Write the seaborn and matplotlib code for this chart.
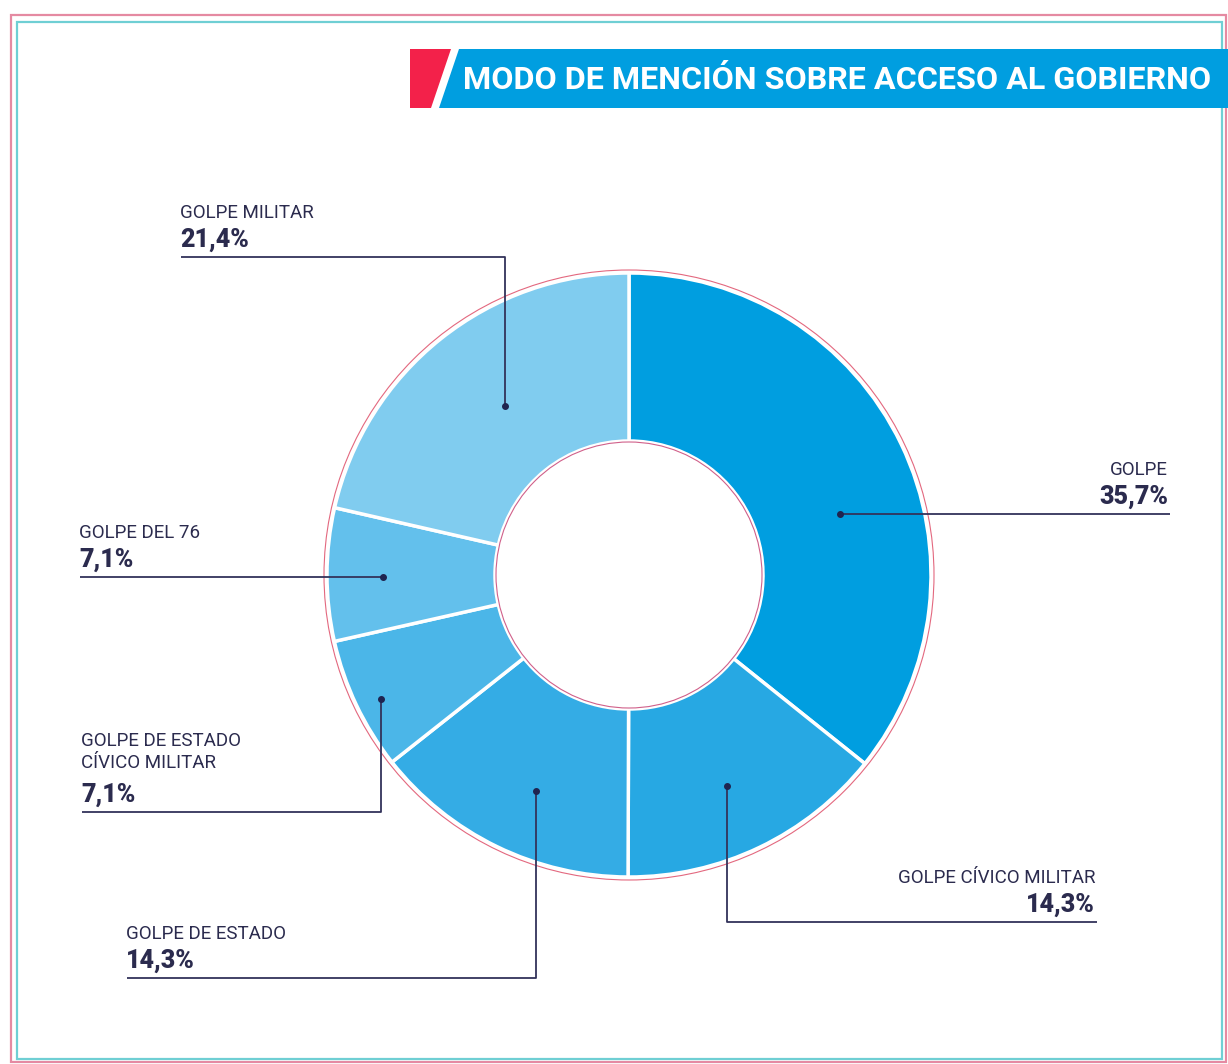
import matplotlib
matplotlib.use("Agg")
import matplotlib.pyplot as plt
import seaborn as sns
from matplotlib.patches import Polygon, Rectangle, Circle

sns.set_theme(style="white")
plt.rcParams['font.family'] = ['Roboto', 'DejaVu Sans']

# --- data -----------------------------------------------------------------
categories = ['GOLPE', 'GOLPE CÍVICO MILITAR', 'GOLPE DE ESTADO',
              'GOLPE DE ESTADO\nCÍVICO MILITAR', 'GOLPE DEL 76', 'GOLPE MILITAR']
shares = [35.7, 14.3, 14.3, 7.1, 7.1, 21.4]
pct_labels = ['35,7%', '14,3%', '14,3%', '7,1%', '7,1%', '21,4%']
title = 'MODO DE MENCIÓN SOBRE ACCESO AL GOBIERNO'

# slice colours, darkest -> lightest
colors = ['#009ee0', '#27a8e3', '#34ace5', '#4bb6e8', '#63c0ec', '#80ccef']

# leader lines (pixel layout): dot -> elbow -> end, label side
leaders = [
    dict(path=[(840, 514), (1170, 514)], ha='right'),
    dict(path=[(727, 786), (727, 922), (1097, 922)], ha='right'),
    dict(path=[(536, 791), (536, 978), (127, 978)], ha='left'),
    dict(path=[(381, 699), (381, 812), (82, 812)], ha='left'),
    dict(path=[(383, 577), (80, 577)], ha='left'),
    dict(path=[(505, 406), (505, 257), (181, 257)], ha='left'),
]

TEXT = '#2b2b4e'
W, H = 1228, 1064
CX, CY, R_OUT, R_IN = 629, 575, 302, 134

fig = plt.figure(figsize=(W / 100, H / 100), dpi=100)
ax = fig.add_axes([0, 0, 1, 1])

# donut: y axis is inverted, so startangle -90 / counterclock gives top & clockwise
ax.pie(shares, colors=colors, center=(CX, CY), radius=R_OUT,
       startangle=-90, counterclock=True,
       wedgeprops=dict(width=R_OUT - R_IN, edgecolor='white', linewidth=2.5))
ax.add_patch(Circle((CX, CY), R_OUT + 3, fill=False, edgecolor='#e3687f', lw=0.8))
ax.add_patch(Circle((CX, CY), R_IN - 1, fill=False, edgecolor='#d0608a', lw=0.8))

ax.set_xlim(0, W)
ax.set_ylim(H, 0)
ax.set_aspect('equal')
ax.axis('off')

# frame
ax.add_patch(Rectangle((11, 15), 1215, 1047, fill=False, edgecolor='#e58aa2', lw=1.6))
ax.add_patch(Rectangle((17, 22), 1205, 1037, fill=False, edgecolor='#6fcfd4', lw=1.6))

# title banner
ax.add_patch(Polygon([(410, 49), (451, 49), (431, 108), (410, 108)],
                     closed=True, facecolor='#f3214a', edgecolor='none'))
ax.add_patch(Polygon([(459, 49), (1228, 49), (1228, 108), (439, 108)],
                     closed=True, facecolor='#009ee0', edgecolor='none'))
t = ax.text(463, 80, title, color='white', fontsize=24, fontweight='bold',
            ha='left', va='center')
r = fig.canvas.get_renderer()
w = t.get_window_extent(r).width
t.set_fontsize(24 * 749 / w)

# leader lines and labels
for name, pct, ld in zip(categories, pct_labels, leaders):
    xs = [p[0] for p in ld['path']]
    ys = [p[1] for p in ld['path']]
    ax.plot(xs, ys, color='#33335a', lw=1.3, solid_capstyle='butt')
    ax.plot(xs[0], ys[0], 'o', color='#1f2450', markersize=4)
    x_end, y_end = xs[-1], ys[-1]
    x_txt = x_end - 2 if ld['ha'] == 'right' else x_end - 1
    ax.text(x_txt, y_end - 10, pct, color=TEXT, fontsize=18, fontweight='heavy',
            ha=ld['ha'], va='baseline')
    ax.text(x_txt, y_end - 35 - 5 * name.count('\n'), name, color=TEXT,
            fontsize=13.5, ha=ld['ha'], va='bottom', linespacing=1.25,
            multialignment=ld['ha'])

fig.savefig('out.png', dpi=100, facecolor='white')
